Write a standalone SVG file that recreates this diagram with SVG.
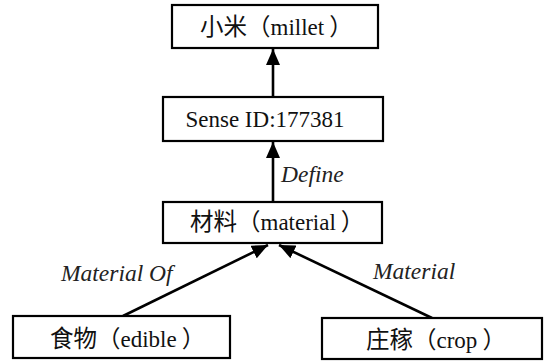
<svg xmlns="http://www.w3.org/2000/svg" width="552" height="362" viewBox="0 0 552 362">
<defs>
<style>
.box{fill:#fff;stroke:#000;stroke-width:2.2}
.lbl{font-family:"Liberation Serif","Noto Sans CJK SC",serif;font-size:23px;fill:#111}
.cjk{font-family:"Noto Sans CJK SC",sans-serif;font-size:23.5px}
.mid{text-anchor:middle}
.edge{font-family:"Liberation Serif",serif;font-size:23.5px;font-style:italic;fill:#222}
.con{stroke:#000;stroke-width:2.6;fill:none}
</style>
<marker id="ah" markerUnits="userSpaceOnUse" markerWidth="16" markerHeight="14" viewBox="0 0 16 14" refX="16" refY="7" orient="auto">
<path d="M0,0 L16,7 L0,14 Z" fill="#000"/>
</marker>
</defs>
<rect width="552" height="362" fill="#fff"/>
<g id="connectors">
<line class="con" x1="273" y1="97" x2="273" y2="49" marker-end="url(#ah)"/>
<line class="con" x1="273" y1="202" x2="273" y2="142" marker-end="url(#ah)"/>
<line class="con" x1="123" y1="316" x2="268" y2="245" marker-end="url(#ah)"/>
<line class="con" x1="432" y1="318" x2="279" y2="245" marker-end="url(#ah)"/>
<text class="edge" x="281" y="182">Define</text>
<text class="edge" x="61" y="281">Material Of</text>
<text class="edge" x="373" y="279">Material</text>
</g>
<g id="node-millet">
<rect class="box" x="172" y="5" width="206" height="43"/>
<text class="lbl" x="200" y="35"><tspan class="cjk">小米（</tspan>millet<tspan class="cjk" dx="5">）</tspan></text>
</g>
<g id="node-sense">
<rect class="box" x="163" y="97" width="220" height="44"/>
<text class="lbl mid" x="265" y="127">Sense ID:177381</text>
</g>
<g id="node-material">
<rect class="box" x="163" y="202" width="219" height="41"/>
<text class="lbl" x="190" y="230"><tspan class="cjk">材料（</tspan>material<tspan class="cjk" dx="5">）</tspan></text>
</g>
<g id="node-edible">
<rect class="box" x="13" y="316" width="217" height="42"/>
<text class="lbl" x="50" y="347"><tspan class="cjk">食物（</tspan>edible<tspan class="cjk" dx="5">）</tspan></text>
</g>
<g id="node-crop">
<rect class="box" x="322" y="318" width="220" height="41"/>
<text class="lbl" x="366" y="348"><tspan class="cjk">庄稼（</tspan>crop<tspan class="cjk" dx="5">）</tspan></text>
</g>
</svg>
